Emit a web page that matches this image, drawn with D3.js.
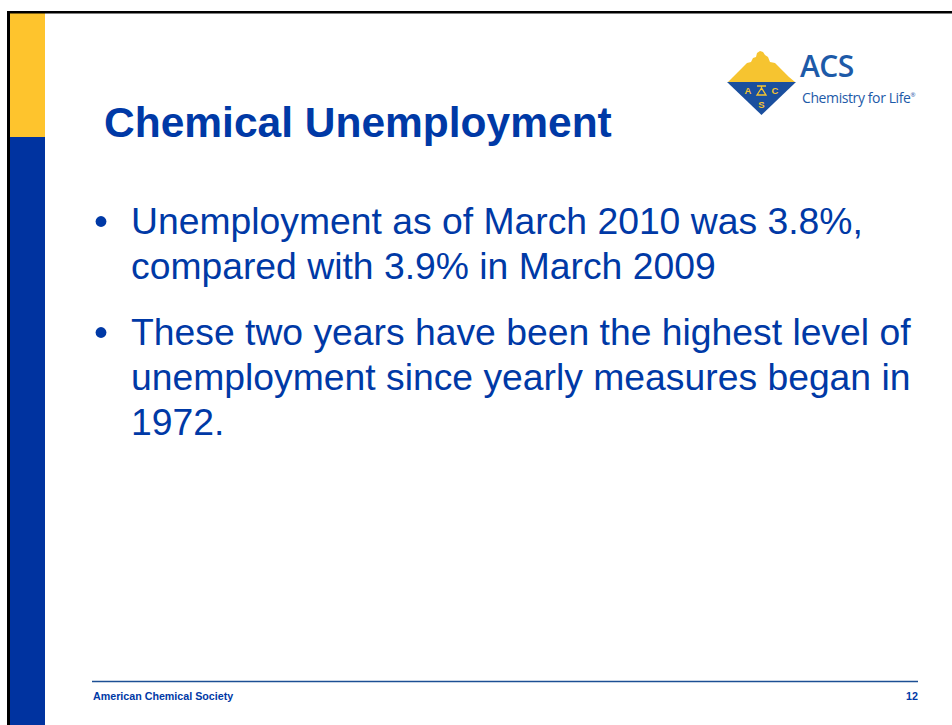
<!DOCTYPE html>
<html>
<head>
<meta charset="utf-8">
<script src="https://cdn.jsdelivr.net/npm/d3@7"></script>
<style>
  html, body { margin: 0; padding: 0; background: #fff; }
  svg { display: block; }
</style>
</head>
<body>
<script>
// slide content
var title = "Chemical Unemployment";

// each bullet is a list of its wrapped lines
var bullets = [
  ["Unemployment as of March 2010 was 3.8%,",
   "compared with 3.9% in March 2009"],
  ["These two years have been the highest level of",
   "unemployment since yearly measures began in",
   "1972."]
];

var footerLeft = "American Chemical Society";
var slideNumber = "12";

var logoWords = ["ACS", "Chemistry for Life"];
var logoLetters = ["A", "C", "S"];

var W = 952, H = 725;
var blue = "#0039a6";
var yellow = "#fec42d";

var svg = d3.select("body").append("svg")
  .attr("width", W)
  .attr("height", H);

// left side bands + border
svg.append("rect").attr("x", 9).attr("y", 13).attr("width", 36).attr("height", 124).attr("fill", yellow);
svg.append("rect").attr("x", 9).attr("y", 137).attr("width", 36).attr("height", H - 137).attr("fill", "#0033a0");
svg.append("rect").attr("x", 7).attr("y", 11).attr("width", 3).attr("height", H - 11).attr("fill", "#000");
svg.append("rect").attr("x", 7).attr("y", 11).attr("width", W - 7).attr("height", 2.5).attr("fill", "#000");

// title
svg.append("text")
  .attr("x", 104)
  .attr("y", 137)
  .attr("font-family", "Liberation Sans, Arial, sans-serif")
  .attr("font-weight", "bold")
  .attr("font-size", 42.5)
  .attr("fill", blue)
  .text(title);

// bullets
var lineH = 45;
var paraGap = 21;
var y0 = 234;
var bodyG = svg.append("g")
  .attr("font-family", "Liberation Sans, Arial, sans-serif")
  .attr("font-size", 37.3)
  .attr("fill", blue);

var y = y0;
bullets.forEach(function(lines) {
  bodyG.append("circle")
    .attr("cx", 101)
    .attr("cy", y - 12.5)
    .attr("r", 5.4)
    .attr("fill", blue);
  lines.forEach(function(line) {
    bodyG.append("text")
      .attr("x", 131)
      .attr("y", y)
      .text(line);
    y += lineH;
  });
  y += paraGap;
});

// footer
svg.append("line")
  .attr("x1", 92).attr("x2", 918)
  .attr("y1", 681.5).attr("y2", 681.5)
  .attr("stroke", "#1c4f94")
  .attr("stroke-width", 1.5);

svg.append("text")
  .attr("x", 93).attr("y", 700)
  .attr("font-family", "Liberation Sans, Arial, sans-serif")
  .attr("font-weight", "bold")
  .attr("font-size", 10.7)
  .attr("fill", blue)
  .text(footerLeft);

svg.append("text")
  .attr("x", 918).attr("y", 700)
  .attr("text-anchor", "end")
  .attr("font-family", "Liberation Sans, Arial, sans-serif")
  .attr("font-weight", "bold")
  .attr("font-size", 10.7)
  .attr("fill", blue)
  .text(slideNumber);

// logo
var logo = svg.append("g");
var logoBlue = "#1a4f9e";
var logoYellow = "#f6c430";

// eagle (upper half, yellow) with spread wings
logo.append("path")
  .attr("d", "M728,82 L733,77 L738,72 L743,67 L747,63 L751,62 L753,58 L756,57 L757,53 L760,51 L763,52 L765,55 L768,57 L770,62 L775,63 L779,67 L784,72 L789,77 L795,82 Z")
  .attr("fill", logoYellow);
// shield (lower half, blue)
logo.append("path")
  .attr("d", "M727,82 L796,82 L761.5,115 Z")
  .attr("fill", logoBlue);
// small delta symbol
logo.append("path")
  .attr("d", "M757,86 L766,86 M761.5,86 L761.5,88 M761.5,88 L757,95 L766,95 Z")
  .attr("fill", "none")
  .attr("stroke", logoYellow)
  .attr("stroke-width", 1.3);

var letterPos = [[748, 94], [775, 94], [761.5, 108]];
logo.selectAll("text.letter")
  .data(logoLetters)
  .enter()
  .append("text")
    .attr("class", "letter")
    .attr("x", function(d, i) { return letterPos[i][0]; })
    .attr("y", function(d, i) { return letterPos[i][1]; })
    .attr("text-anchor", "middle")
    .attr("font-family", "Liberation Sans, Arial, sans-serif")
    .attr("font-weight", "bold")
    .attr("font-size", 9.5)
    .attr("fill", logoYellow)
    .text(function(d) { return d; });

logo.append("text")
  .attr("x", 800)
  .attr("y", 77)
  .attr("font-family", "Open Sans, sans-serif")
  .attr("font-weight", 600)
  .attr("font-size", 30)
  .attr("fill", "#1d5aa8")
  .attr("letter-spacing", -0.5)
  .text(logoWords[0]);

var tag = logo.append("text")
  .attr("x", 802)
  .attr("y", 103)
  .attr("font-family", "Open Sans, sans-serif")
  .attr("font-size", 14)
  .attr("fill", "#1d5aa8")
  .attr("letter-spacing", -0.4)
  .text(logoWords[1]);
tag.append("tspan")
  .attr("font-size", 6)
  .attr("dy", -6)
  .text("®");
</script>
</body>
</html>
